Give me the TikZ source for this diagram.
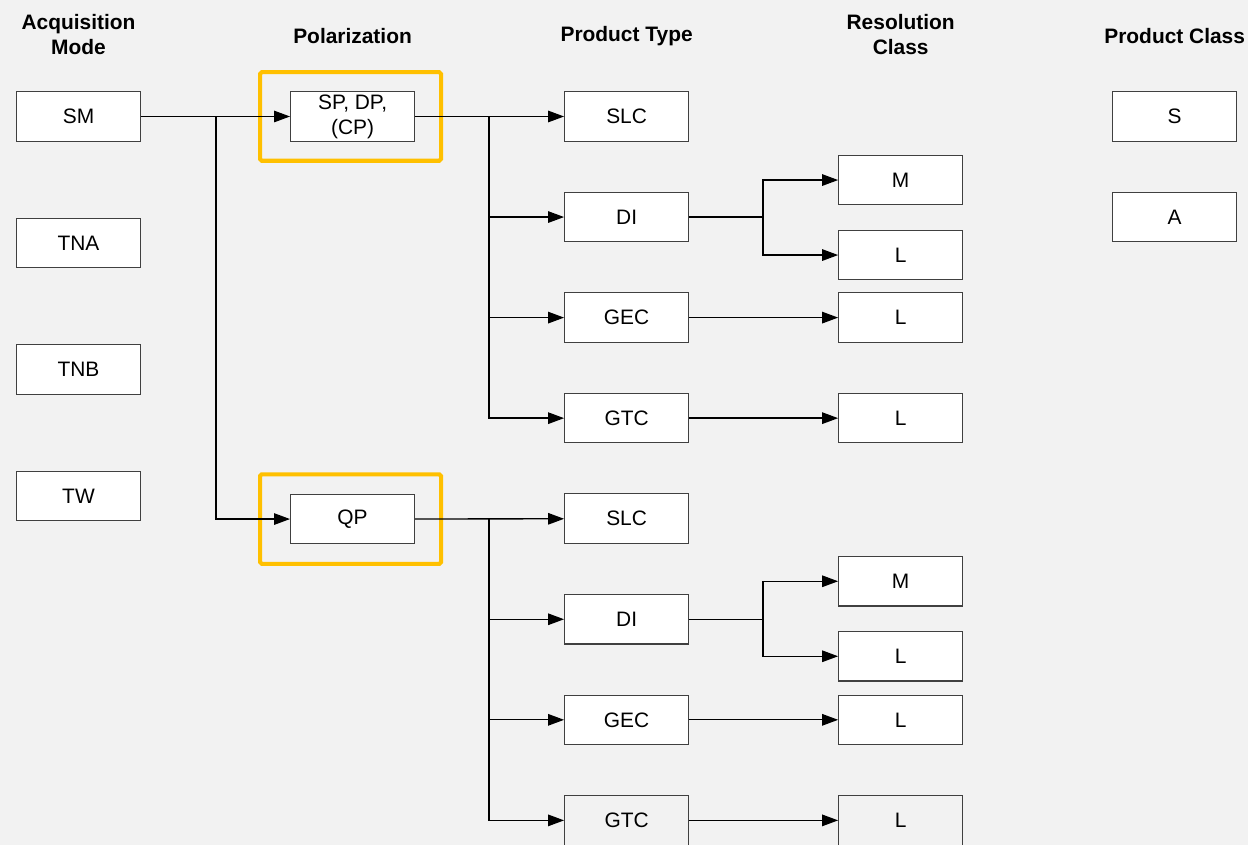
\documentclass[tikz,border=0pt]{standalone}
\usepackage{fontspec}
\setmainfont{Liberation Sans}
\usetikzlibrary{arrows.meta, positioning}
\definecolor{bggrey}{HTML}{F2F2F2}
\definecolor{hiorange}{HTML}{FFC000}

\begin{document}
\begin{tikzpicture}[
    node distance = 1cm,
    %% Product boxes
    pbox/.style = {
      draw=black!75, line width=0.6pt, fill=white,
      minimum width=2.48cm, minimum height=0.99cm,
      inner sep=0pt, align=center,
      font=\fontsize{11.9}{14.2}\selectfont},
    obox/.style = {pbox, fill=none},
    %% Column headers
    head/.style = {align=center, font=\fontsize{11.9}{14.2}\selectfont\bfseries},
    %% Highlight frames
    hilite/.style = {draw=hiorange, line width=2.3pt, rounded corners=1pt},
    %% Arrows
    arr/.style = {-{Triangle[length=3.2mm, width=2.3mm]}, line width=0.75pt, black},
  ]

    \fill[bggrey] (0,0) rectangle (24.96,-16.9);
    \useasboundingbox (0,0) rectangle (24.96,-16.9);

    %% ── Acquisition mode column ──────────────────────────────────────
    \node[pbox] (SM) at (1.57,-2.33) {SM};
    \node[pbox, below=1.52cm of SM]  (TNA) {TNA};
    \node[pbox, below=1.52cm of TNA] (TNB) {TNB};
    \node[pbox, below=1.52cm of TNB] (TW)  {TW};

    %% ── Polarization column ──────────────────────────────────────────
    \node[pbox, right=2.98cm of SM] (SP) {SP, DP,\\(CP)};
    \node[pbox, below=7.04cm of SP] (QP) {QP};

    %% ── Product type column ──────────────────────────────────────────
    \node[pbox, right=2.98cm of SP] (SLC1) {SLC};
    \node[pbox, below=of SLC1] (DI1)  {DI};
    \node[pbox, below=of DI1]  (GEC1) {GEC};
    \node[pbox, below=of GEC1] (GTC1) {GTC};
    \node[pbox, below=of GTC1] (SLC2) {SLC};
    \node[pbox, below=of SLC2] (DI2)  {DI};
    \node[pbox, below=of DI2]  (GEC2) {GEC};
    \node[obox, below=of GEC2] (GTC2) {GTC};

    %% ── Resolution class column ──────────────────────────────────────
    \node[pbox, right=2.98cm of DI1, yshift=0.74cm]  (M1)  {M};
    \node[pbox, right=2.98cm of DI1, yshift=-0.76cm] (L1a) {L};
    \node[pbox, right=2.98cm of GEC1] (L1b) {L};
    \node[pbox, right=2.98cm of GTC1] (L1c) {L};
    \node[pbox, right=2.98cm of DI2, yshift=0.76cm]  (M2)  {M};
    \node[pbox, right=2.98cm of DI2, yshift=-0.74cm] (L2a) {L};
    \node[pbox, right=2.98cm of GEC2] (L2b) {L};
    \node[obox, right=2.98cm of GTC2] (L2c) {L};

    %% ── Product class column ─────────────────────────────────────────
    \node[pbox, right=8.46cm of SLC1] (S) {S};
    \node[pbox, below=of S] (A) {A};

    %% ── Column headers ───────────────────────────────────────────────
    \node[head] (hAM) at ([yshift=1.13cm]SM.north)   {Acquisition\\Mode};
    \node[head] (hPO) at ([yshift=1.1cm]SP.north)    {Polarization};
    \node[head] (hPT) at ([yshift=1.1cm]SLC1.north)  {Product Type};
    \node[head] (hRC) at (hAM -| M1)                 {Resolution\\Class};
    \node[head] (hPC) at ([yshift=1.1cm]S.north)     {Product Class};

    %% ── Highlight frames ─────────────────────────────────────────────
    \draw[hilite] ([shift={(-0.6cm,0.38cm)}]SP.north west) rectangle ([shift={(0.52cm,-0.38cm)}]SP.south east);
    \draw[hilite] ([shift={(-0.6cm,0.39cm)}]QP.north west) rectangle ([shift={(0.52cm,-0.39cm)}]QP.south east);

    %% ── Connectors ───────────────────────────────────────────────────
    \coordinate (jSM) at ([xshift=1.5cm]SM.east);
    \draw[arr] (SM) -- (SP);
    \draw[arr] (jSM) |- (QP);

    \coordinate (jSP) at ([xshift=1.48cm]SP.east);
    \draw[arr] (SP) -- (SLC1);
    \draw[arr] (jSP) |- (DI1);
    \draw[arr] (jSP) |- (GEC1);
    \draw[arr] (jSP) |- (GTC1);

    \coordinate (jQP) at ([xshift=1.48cm]QP.east);
    \draw[arr] (QP) -- (SLC2);
    \draw[arr] (jQP) |- (DI2);
    \draw[arr] (jQP) |- (GEC2);
    \draw[arr] (jQP) |- (GTC2);

    \coordinate (jDI1) at ([xshift=1.48cm]DI1.east);
    \draw[arr] (DI1.east) -- (jDI1) |- (M1);
    \draw[arr] (jDI1) |- (L1a);
    \draw[arr] (GEC1) -- (L1b);
    \draw[arr] (GTC1) -- (L1c);

    \coordinate (jDI2) at ([xshift=1.48cm]DI2.east);
    \draw[arr] (DI2.east) -- (jDI2) |- (M2);
    \draw[arr] (jDI2) |- (L2a);
    \draw[arr] (GEC2) -- (L2b);
    \draw[arr] (GTC2) -- (L2c);

  \end{tikzpicture}
\end{document}
